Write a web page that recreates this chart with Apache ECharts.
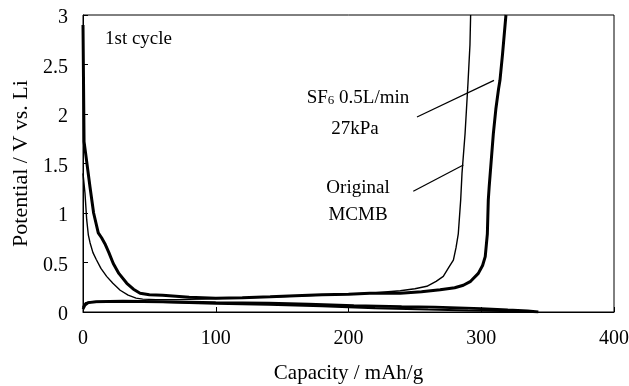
<!DOCTYPE html>
<html>
<head>
<meta charset="utf-8">
<script src="https://cdn.jsdelivr.net/npm/echarts@6/dist/echarts.min.js"></script>
<style>
html,body{margin:0;padding:0;background:#fff;}
#chart{width:629px;height:386px;}
</style>
</head>
<body>
<div id="chart"></div>
<script>
// ---- data: [capacity (mAh/g), potential (V vs. Li)] ----
const xTicks = [0, 100, 200, 300, 400];
const yTicks = [0, 0.5, 1, 1.5, 2, 2.5, 3];

// SF6-treated (thick)
const sf6Upper = [[0,2.9],[0.8,1.72],[2,1.6],[5.3,1.26],[8,1.0],[11.5,0.8],[14,0.75],[16.5,0.69],[19.5,0.6],[22.8,0.49],[27,0.39],[33,0.29],[38,0.23],[43,0.19],[50,0.175],[60,0.17],[70,0.16],[80,0.15],[100,0.14],[120,0.145],[141,0.155],[160,0.165],[180,0.175],[200,0.18],[216,0.19],[239,0.19],[255,0.205],[269,0.225],[280,0.245],[286.5,0.27],[292,0.31],[297.8,0.39],[301,0.47],[303,0.56],[304.6,0.79],[305.3,1.13],[306,1.27],[309.1,1.8],[311,2.05],[313,2.25],[314.1,2.34],[316,2.6],[318.6,3.0]];
// Original MCMB (thin)
const origUpper = [[0,1.4],[1.5,1.2],[2.8,0.93],[4,0.78],[5.3,0.70],[7.5,0.6],[10,0.53],[13.5,0.44],[17.8,0.36],[22.5,0.29],[28,0.22],[34,0.17],[40,0.14],[45,0.13],[55,0.125],[70,0.125],[90,0.13],[110,0.14],[141,0.15],[180,0.17],[216,0.19],[239,0.215],[250,0.235],[259,0.26],[266,0.31],[271.4,0.36],[276,0.46],[279,0.525],[281,0.65],[282.7,0.79],[284.5,1.13],[285.5,1.4],[287.8,1.8],[290,2.31],[291.5,2.7],[292,3.0]];
// lower branches
const sf6Lower = [[0,0.03],[1.5,0.07],[4,0.095],[10,0.105],[30,0.11],[60,0.105],[100,0.095],[140,0.09],[170,0.08],[204,0.065],[240,0.055],[265,0.05],[300,0.035],[320,0.02],[335,0.01],[343,0]];
const origLower = [[0,0.05],[2,0.09],[6,0.1],[30,0.105],[60,0.1],[100,0.085],[140,0.075],[180,0.06],[220,0.04],[260,0.025],[290,0.015],[315,0.01],[330,0.004]];
// leader lines for the annotations
const sf6Leader = [[251.6,1.97],[309.6,2.34]];
const origLeader = [[248.8,1.22],[286.5,1.485]];

const FONT = '"Liberation Serif","Times New Roman",serif';
const chart = echarts.init(document.getElementById('chart'), null, {renderer:'canvas'});

function lineSeries(name, data, width){
  return {name, type:'line', data, showSymbol:false, symbol:'none', smooth:false,
    lineStyle:{color:'#000', width}, animation:false, silent:true, z:3};
}

chart.setOption({
  animation:false,
  backgroundColor:'#fff',
  grid:{left:83, right:15, top:15, bottom:74, containLabel:false, outerBoundsMode:'none',
    show:true, borderColor:'#000', borderWidth:1, backgroundColor:'transparent'},
  xAxis:{type:'value', min:xTicks[0], max:xTicks[xTicks.length-1], interval:100,
    name:'Capacity / mAh/g', nameLocation:'middle', nameGap:51,
    nameTextStyle:{fontFamily:FONT, fontSize:21, color:'#000'},
    axisLine:{show:true, lineStyle:{color:'#000', width:1}},
    axisTick:{show:true, inside:true, length:5, lineStyle:{color:'#000'}},
    axisLabel:{fontFamily:FONT, fontSize:20, color:'#000', margin:17},
    splitLine:{show:false}},
  yAxis:{type:'value', min:yTicks[0], max:yTicks[yTicks.length-1], interval:0.5,
    name:'Potential / V vs. Li', nameLocation:'middle', nameGap:51,
    nameTextStyle:{fontFamily:FONT, fontSize:22, color:'#000'},
    axisLine:{show:true, lineStyle:{color:'#000', width:1}},
    axisTick:{show:true, inside:true, length:5, lineStyle:{color:'#000'}},
    axisLabel:{fontFamily:FONT, fontSize:20, color:'#000', margin:15, verticalAlign:'top', lineHeight:6},
    splitLine:{show:false}},
  series:[
    lineSeries('origLower', origLower, 2.2),
    lineSeries('sf6Lower', sf6Lower, 2.8),
    lineSeries('origUpper', origUpper, 1.4),
    lineSeries('sf6Upper', sf6Upper, 3),
    lineSeries('sf6Leader', sf6Leader, 1.3),
    lineSeries('origLeader', origLeader, 1.3)
  ],
  graphic:[
    {type:'text', left:105, top:30, style:{text:'1st cycle', font:'19px '+FONT, fill:'#000'}},
    {type:'text', x:358, y:98, style:{text:'{a|SF}{s|6}{a| 0.5L/min}', align:'center', verticalAlign:'middle',
      rich:{a:{fontFamily:FONT, fontSize:19, fill:'#000', color:'#000'}, s:{fontFamily:FONT, fontSize:13, fill:'#000', color:'#000', padding:[6,0,0,0]}}}},
    {type:'text', x:355, y:129, style:{text:'27kPa', font:'19px '+FONT, fill:'#000', align:'center', verticalAlign:'middle'}},
    {type:'text', x:358, y:188, style:{text:'Original', font:'19px '+FONT, fill:'#000', align:'center', verticalAlign:'middle'}},
    {type:'text', x:358, y:215, style:{text:'MCMB', font:'19px '+FONT, fill:'#000', align:'center', verticalAlign:'middle'}}
  ]
});
</script>
</body>
</html>
